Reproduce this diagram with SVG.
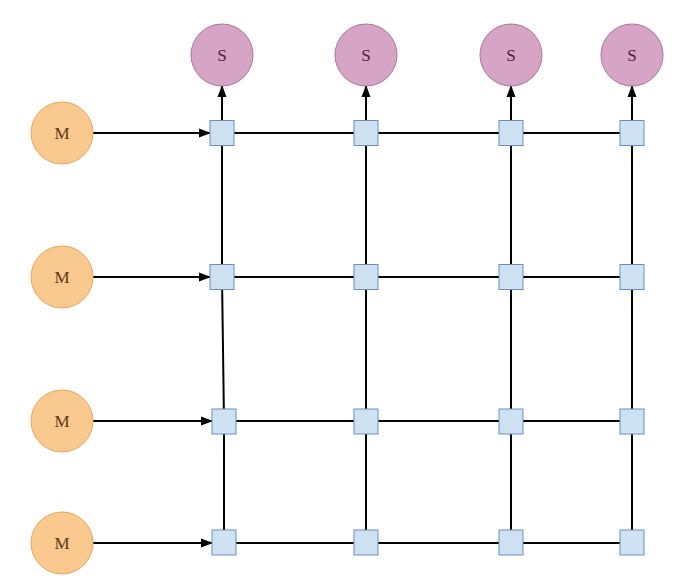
<svg xmlns="http://www.w3.org/2000/svg" width="693" height="586" viewBox="0 0 693 586">
<style>
.m{fill:#f9c98f;stroke:#e3a95e;stroke-width:1}
.s{fill:#d6a4c4;stroke:#a8779a;stroke-width:1}
.r{fill:#cfe2f4;stroke:#6c8ebf;stroke-width:1}
.tm{font-family:"Liberation Serif",serif;font-size:17px;fill:#5a3a10;text-anchor:middle}
.ts{font-family:"Liberation Serif",serif;font-size:17px;fill:#4d1f3e;text-anchor:middle}
.l{stroke:#000;stroke-width:2;fill:none}
.a{stroke:#000;stroke-width:2;fill:none;marker-end:url(#ah)}
</style>
<defs>
<marker id="ah" markerWidth="12" markerHeight="10" refX="11" refY="5" orient="auto" markerUnits="userSpaceOnUse">
<path d="M0,0.5 L12,5 L0,9.5 Z" fill="#000"/>
</marker>
</defs>
<rect width="693" height="586" fill="#fff"/>
<g id="connectors">
<path class="l" d="M222,133 H632"/>
<path class="l" d="M222,277 H632"/>
<path class="l" d="M224,421 H632"/>
<path class="l" d="M224,543 H632"/>
<path class="l" d="M222,145 V277 L224,421 V543"/>
<path class="l" d="M366,133 V543"/>
<path class="l" d="M511,133 V543"/>
<path class="l" d="M632,133 V543"/>
<path class="a" d="M93,133 H210"/>
<path class="a" d="M93,277 H210"/>
<path class="a" d="M93,421 H212"/>
<path class="a" d="M93,543 H212"/>
<path class="a" d="M222,120 V86"/>
<path class="a" d="M366,120 V86"/>
<path class="a" d="M511,120 V86"/>
<path class="a" d="M632,120 V86"/>
</g>
<g id="S1"><circle class="s" cx="222" cy="55" r="31"/><text class="ts" x="222" y="61">S</text></g>
<g id="S2"><circle class="s" cx="366" cy="55" r="31"/><text class="ts" x="366" y="61">S</text></g>
<g id="S3"><circle class="s" cx="511" cy="55" r="31"/><text class="ts" x="511" y="61">S</text></g>
<g id="S4"><circle class="s" cx="632" cy="55" r="31"/><text class="ts" x="632" y="61">S</text></g>
<g id="M1"><circle class="m" cx="62" cy="133" r="31"/><text class="tm" x="62" y="139">M</text></g>
<g id="M2"><circle class="m" cx="62" cy="277" r="31"/><text class="tm" x="62" y="283">M</text></g>
<g id="M3"><circle class="m" cx="62" cy="421" r="31"/><text class="tm" x="62" y="427">M</text></g>
<g id="M4"><circle class="m" cx="62" cy="543" r="31"/><text class="tm" x="62" y="549">M</text></g>
<g id="R11"><rect class="r" x="210" y="120.5" width="24" height="25"/></g>
<g id="R12"><rect class="r" x="354" y="120.5" width="24" height="25"/></g>
<g id="R13"><rect class="r" x="499" y="120.5" width="24" height="25"/></g>
<g id="R14"><rect class="r" x="620" y="120.5" width="24" height="25"/></g>
<g id="R21"><rect class="r" x="210" y="264.5" width="24" height="25"/></g>
<g id="R22"><rect class="r" x="354" y="264.5" width="24" height="25"/></g>
<g id="R23"><rect class="r" x="499" y="264.5" width="24" height="25"/></g>
<g id="R24"><rect class="r" x="620" y="264.5" width="24" height="25"/></g>
<g id="R31"><rect class="r" x="212" y="409" width="24" height="25"/></g>
<g id="R32"><rect class="r" x="354" y="409" width="24" height="25"/></g>
<g id="R33"><rect class="r" x="499" y="409" width="24" height="25"/></g>
<g id="R34"><rect class="r" x="620" y="409" width="24" height="25"/></g>
<g id="R41"><rect class="r" x="212" y="530" width="24" height="25"/></g>
<g id="R42"><rect class="r" x="354" y="530" width="24" height="25"/></g>
<g id="R43"><rect class="r" x="499" y="530" width="24" height="25"/></g>
<g id="R44"><rect class="r" x="620" y="530" width="24" height="25"/></g>
</svg>
